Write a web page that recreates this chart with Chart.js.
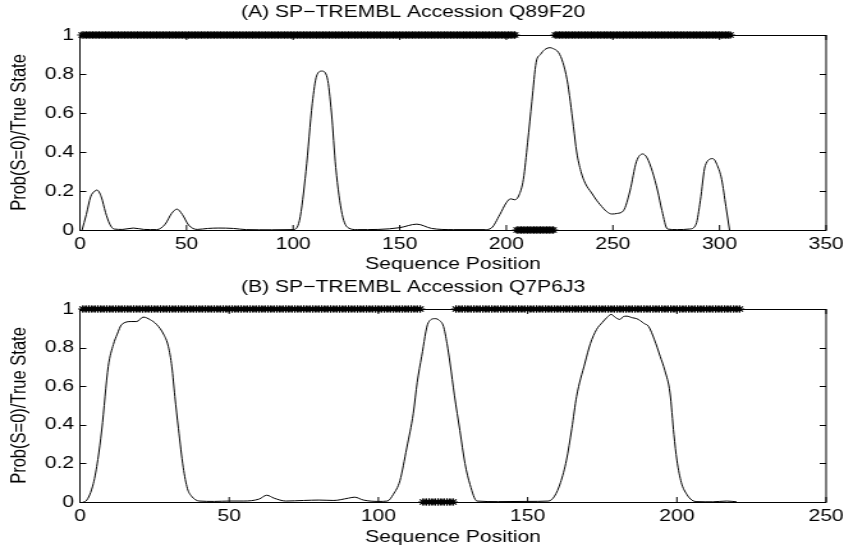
<!DOCTYPE html>
<html>
<head>
<meta charset="utf-8">
<script src="https://cdn.jsdelivr.net/npm/chart.js@4/dist/chart.umd.min.js"></script>
<style>
  html, body { margin: 0; padding: 0; background: #fff; overflow: hidden; }
  #wrap { position: relative; width: 844px; height: 546px; overflow: hidden; }
  /* the reference figure is horizontally stretched: draw at 660px and stretch to 844px */
  .panel { position: absolute; left: 0; width: 660px; height: 273px; transform: scaleX(1.278788); transform-origin: 0 0; }
  #pA { top: 0; }
  #pB { top: 273px; }
</style>
</head>
<body>
<div id="wrap">
  <div class="panel" id="pA"><canvas id="cA"></canvas></div>
  <div class="panel" id="pB"><canvas id="cB"></canvas></div>
</div>
<script>
// ---- Data ----
const titleA = "(A) SP\u2212TREMBL Accession Q89F20";
const titleB = "(B) SP\u2212TREMBL Accession Q7P6J3";
const xTitle = "Sequence Position";
const yTitle = "Prob(S=0)/True State";

const xTicksA = [0, 50, 100, 150, 200, 250, 300, 350];
const xTicksB = [0, 50, 100, 150, 200, 250];
const yTicks = [0, 0.2, 0.4, 0.6, 0.8, 1];

// Panel A: probability curve (position, value)
const probPosA = [1,3,5,7,8,10,12,14,16,20,25,30,36,40,43,45.5,48,51,55,60,65,72,78,90,100,103,106,109,111,113.5,116,118,120,123,126,130,140,150,158,165,175,190,193,197,200,202,204,206,208,210,212,214,216,218,220.5,222,224.5,226.5,228.5,230,231.5,233,235,237,240,242.5,244,247,249.5,252,255,258,261,264,266,268.5,271,273,275.6,280,286,289,291,293.3,296.9,299,301,303,304.7];
const probValA = [0,0.08,0.17,0.2,0.205,0.17,0.09,0.03,0.005,0.003,0.01,0.003,0.002,0.03,0.085,0.107,0.08,0.025,0.003,0.008,0.01,0.008,0.002,0.001,0.002,0.05,0.3,0.65,0.79,0.815,0.78,0.6,0.32,0.08,0.01,0.002,0.003,0.012,0.03,0.008,0.002,0.002,0.01,0.08,0.14,0.16,0.155,0.18,0.26,0.45,0.66,0.86,0.9,0.925,0.935,0.93,0.91,0.86,0.77,0.66,0.53,0.4,0.3,0.24,0.19,0.15,0.13,0.095,0.082,0.085,0.1,0.2,0.35,0.39,0.37,0.3,0.2,0.1,0.005,0.002,0.005,0.03,0.15,0.33,0.366,0.33,0.26,0.12,0];

// Panel A: true state, run-length encoded [first position, last position, state]
const stateRunsA = [[1, 204, 1], [205, 222, 0], [223, 305, 1]];

// Panel B: probability curve
const probPosB = [1,2,4.5,6,7.3,9.5,11.2,12.5,14,17.3,19,21.2,23.5,25.7,28,29.6,30.8,31.8,33,34.6,36,37.4,40,45,50,55,60,62.6,65,69,75,80,85,90,92,95,100,103,105,107.2,109.5,111.7,113,114.5,116.7,119,120.5,121.8,123,124,125.5,127.3,129,130.7,133,140,150,157,159,161,163,164.8,166.4,169.2,171,173.1,175,176.5,178,179.5,180.9,182,183.2,185,186.5,187.7,189,190.5,192.5,194.4,196,197.7,199,200,201.5,203.3,205,206.7,212,216.7,220];
const probValB = [0,0.005,0.096,0.22,0.373,0.703,0.816,0.87,0.92,0.935,0.935,0.958,0.945,0.92,0.87,0.807,0.7,0.547,0.38,0.18,0.07,0.03,0.005,0.003,0.005,0.005,0.015,0.035,0.02,0.005,0.008,0.01,0.008,0.02,0.025,0.01,0.003,0.005,0.04,0.11,0.28,0.46,0.62,0.755,0.929,0.95,0.94,0.91,0.82,0.72,0.55,0.37,0.2,0.09,0.005,0.002,0.003,0.005,0.03,0.1,0.217,0.38,0.547,0.72,0.82,0.894,0.93,0.955,0.972,0.955,0.946,0.96,0.963,0.955,0.95,0.94,0.925,0.91,0.84,0.755,0.68,0.565,0.35,0.217,0.1,0.04,0.01,0.002,0.001,0.005,0.001];

const stateRunsB = [[1, 114, 1], [115, 125, 0], [126, 221, 1]];

// ---- Build helpers ----
function zipPts(xs, ys) { return xs.map((x, i) => ({ x: x, y: ys[i] })); }
function expandRuns(runs) {
  const pts = [];
  runs.forEach(r => { for (let p = r[0]; p <= r[1]; p++) pts.push({ x: p, y: r[2] }); });
  return pts;
}

const FONT = "'Liberation Sans', Arial, Helvetica, sans-serif";
const FS = 16.5;

const matlabAxes = {
  id: 'matlabAxes',
  afterDatasetsDraw(chart) {
    const { ctx, chartArea: a, scales } = chart;
    ctx.save();
    ctx.strokeStyle = '#000';
    ctx.lineWidth = 1;
    ctx.strokeRect(a.left, Math.round(a.top) + 0.5, a.right - a.left, Math.round(a.bottom - a.top));
    const tl = 5;
    ctx.beginPath();
    scales.x.ticks.forEach(t => {
      const px = scales.x.getPixelForValue(t.value);
      ctx.moveTo(px, a.bottom); ctx.lineTo(px, a.bottom - tl);
      ctx.moveTo(px, a.top); ctx.lineTo(px, a.top + tl);
    });
    scales.y.ticks.forEach(t => {
      const py = Math.round(scales.y.getPixelForValue(t.value)) + 0.5;
      ctx.moveTo(a.left, py); ctx.lineTo(a.left + tl, py);
      ctx.moveTo(a.right, py); ctx.lineTo(a.right - tl, py);
    });
    ctx.stroke();
    ctx.restore();
  }
};

function makeChart(canvasId, title, probPos, probVal, runs, xTicks, titleTop, plotTop, xAxisH) {
  const xmax = xTicks[xTicks.length - 1];
  const tLine = FS * 1.2;
  return new Chart(document.getElementById(canvasId), {
    type: 'scatter',
    data: {
      datasets: [
        {
          label: 'Prob(S=0)',
          data: zipPts(probPos, probVal),
          showLine: true,
          borderColor: '#000',
          borderWidth: 1,
          pointRadius: 0,
          cubicInterpolationMode: 'monotone',
          clip: false
        },
        {
          label: 'True State',
          data: expandRuns(runs),
          showLine: false,
          pointStyle: 'star',
          pointRadius: 3.8,
          borderColor: '#000',
          backgroundColor: '#000',
          borderWidth: 1.2,
          clip: false
        }
      ]
    },
    options: {
      responsive: true,
      maintainAspectRatio: false,
      animation: false,
      events: [],
      layout: { padding: { left: 0, right: 14, top: 0, bottom: 0 } },
      plugins: {
        legend: { display: false },
        tooltip: { enabled: false },
        title: {
          display: true,
          text: title,
          color: '#000',
          font: { family: FONT, size: FS, weight: 'normal', lineHeight: 1.2 },
          padding: { top: titleTop - tLine / 2, bottom: plotTop - titleTop - tLine / 2 }
        }
      },
      scales: {
        x: {
          type: 'linear',
          min: 0, max: xmax,
          afterBuildTicks: s => { s.ticks = xTicks.map(v => ({ value: v })); },
          grid: { display: false, drawTicks: false },
          border: { display: false },
          ticks: { color: '#000', font: { family: FONT, size: FS }, padding: 5, maxRotation: 0, callback: v => String(v) },
          title: { display: true, text: xTitle, color: '#000', font: { family: FONT, size: FS, lineHeight: 1.0 }, padding: { top: 0, bottom: 0 } },
          afterFit: s => { s.height = xAxisH; s.paddingLeft = 0; s.paddingRight = 0; }
        },
        y: {
          type: 'linear',
          min: 0, max: 1,
          afterBuildTicks: s => { s.ticks = yTicks.map(v => ({ value: v })); },
          grid: { display: false, drawTicks: false },
          border: { display: false },
          ticks: { color: '#000', font: { family: FONT, size: FS }, padding: 4.5, callback: v => String(v) },
          title: { display: true, text: yTitle, color: '#000', font: { family: FONT, size: FS, lineHeight: 1.2 }, padding: { top: 5.7, bottom: 0 } },
          afterFit: s => { s.width = 62.5; s.paddingTop = 0; s.paddingBottom = 0; }
        }
      }
    },
    plugins: [matlabAxes]
  });
}

makeChart('cA', titleA, probPosA, probValA, stateRunsA, xTicksA, 12.5, 35, 43);
makeChart('cB', titleB, probPosB, probValB, stateRunsB, xTicksB, 14, 36, 44);
</script>
</body>
</html>
